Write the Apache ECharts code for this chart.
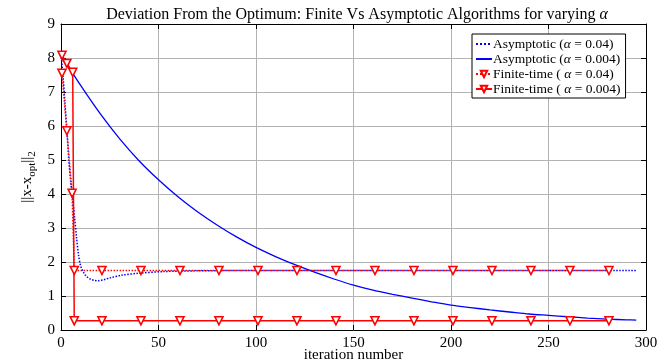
<!DOCTYPE html>
<html>
<head>
<meta charset="utf-8">
<title>Deviation From the Optimum</title>
<script src="https://cdn.jsdelivr.net/npm/echarts@6/dist/echarts.min.js"></script>
<style>
  html, body { margin: 0; padding: 0; background: #fff; }
  #main { width: 658px; height: 364px; }
</style>
</head>
<body>
<div id="main"></div>
<script>
// legend names
var seriesNames = ['Asymptotic (a=0.04)', 'Asymptotic (a=0.004)', 'Finite-time (a=0.04)', 'Finite-time (a=0.004)'];
var legendText = [
    'Asymptotic ({i|α} = 0.04)',
    'Asymptotic ({i|α} = 0.004)',
    'Finite-time ( {i|α} = 0.04)',
    'Finite-time ( {i|α} = 0.004)'
];

// asymptotic, alpha = 0.04 (dotted blue)
var asymFastX = [0, 1, 2, 3, 4, 5, 6, 7, 8, 9, 10, 11.5, 13, 15, 17, 19, 22, 25, 31, 40, 53, 70, 100, 150, 200, 250, 295];
var asymFastY = [8.1, 7.5, 6.7, 5.9, 5.0, 4.35, 3.85, 3.3, 2.7, 2.2, 1.9, 1.7, 1.58, 1.5, 1.46, 1.45, 1.48, 1.53, 1.61, 1.67, 1.72, 1.74, 1.75, 1.75, 1.75, 1.75, 1.75];

// asymptotic, alpha = 0.004 (solid blue)
var asymSlowX = [0, 10, 20, 30, 40, 50, 60, 70, 80, 90, 100, 110, 120, 130, 140, 150, 160, 170, 180, 190, 200, 210, 220, 230, 240, 250, 260, 270, 280, 290, 295];
var asymSlowY = [8.1, 7.2, 6.37, 5.63, 4.98, 4.42, 3.92, 3.48, 3.09, 2.74, 2.43, 2.16, 1.92, 1.7, 1.5, 1.32, 1.17, 1.05, 0.94, 0.83, 0.73, 0.66, 0.59, 0.53, 0.47, 0.43, 0.39, 0.35, 0.32, 0.3, 0.29];

// finite-time, alpha = 0.04 (dotted red, markers)
var finFastX = [0.5, 3, 5.7, 6.8, 21, 41, 61, 81, 101, 121, 141, 161, 181, 201, 221, 241, 261, 281];
var finFastY = [7.55, 5.86, 4.02, 1.75, 1.75, 1.75, 1.75, 1.75, 1.75, 1.75, 1.75, 1.75, 1.75, 1.75, 1.75, 1.75, 1.75, 1.75];

// finite-time, alpha = 0.004 (solid red, markers)
var finSlowX = [0.5, 3, 6, 6.8, 21, 41, 61, 81, 101, 121, 141, 161, 181, 201, 221, 241, 261, 281];
var finSlowY = [8.08, 7.84, 7.58, 0.27, 0.27, 0.27, 0.27, 0.27, 0.27, 0.27, 0.27, 0.27, 0.27, 0.27, 0.27, 0.27, 0.27, 0.27];

function pairs(xs, ys) {
    var out = [];
    for (var i = 0; i < xs.length; i++) {
        out.push([xs[i], ys[i]]);
    }
    return out;
}

var serif = 'Liberation Serif';
var blue = '#0000ff';
var red = '#ff0000';
var gridGray = '#b3b3b3';

var chart = echarts.init(document.getElementById('main'));

// triangle marker style (pointing down)
var triMarker = {
    symbol: 'triangle',
    symbolRotate: 180,
    symbolSize: 8,
    showAllSymbol: true,
    itemStyle: { color: '#fff', borderColor: red, borderWidth: 1.6 }
};

var option = {
    animation: false,
    backgroundColor: '#fff',
    title: {
        text: 'Deviation From the Optimum: Finite Vs Asymptotic Algorithms for varying {i|α}',
        left: 352,
        top: 2,
        textAlign: 'center',
        textStyle: {
            fontFamily: serif,
            fontWeight: 'normal',
            fontSize: 16,
            color: '#000',
            rich: { i: { fontFamily: serif, fontStyle: 'italic', fontSize: 16, color: '#000' } }
        }
    },
    legend: {
        orient: 'vertical',
        left: 472,
        top: 34,
        padding: [3, 5, 2, 3],
        itemGap: 1,
        itemWidth: 16,
        itemHeight: 8,
        backgroundColor: '#fff',
        borderColor: '#000',
        borderWidth: 1,
        borderRadius: 0,
        data: [
            // blue lines have no markers: hide the default legend dot
            { name: seriesNames[0], itemStyle: { opacity: 0 } },
            { name: seriesNames[1], itemStyle: { opacity: 0 } },
            { name: seriesNames[2] },
            { name: seriesNames[3] }
        ],
        formatter: function (name) {
            return legendText[seriesNames.indexOf(name)];
        },
        textStyle: {
            fontFamily: serif,
            fontSize: 13.5,
            lineHeight: 12,
            color: '#000',
            padding: [0, 0, 0, -4],
            rich: { i: { fontFamily: serif, fontStyle: 'italic', fontSize: 13.5, lineHeight: 12, color: '#000' } }
        }
    },
    grid: {
        left: 61,
        right: 12,
        top: 24,
        bottom: 34,
        outerBoundsMode: 'none'
    },
    xAxis: [{
        type: 'value',
        min: 0,
        max: 300,
        interval: 50,
        name: 'iteration number',
        nameLocation: 'middle',
        nameGap: 18,
        nameMoveOverlap: false,
        nameTextStyle: { fontFamily: serif, fontSize: 15, color: '#000' },
        axisLine: { show: true, onZero: false, lineStyle: { color: '#000', width: 1 } },
        axisTick: { show: true, inside: true, length: 5, lineStyle: { color: '#000' } },
        axisLabel: { fontFamily: serif, fontSize: 15, color: '#000', margin: 6 },
        splitLine: { show: true, lineStyle: { color: gridGray, width: 1 } }
    }, {
        // top border with ticks
        type: 'value',
        position: 'top',
        min: 0,
        max: 300,
        interval: 50,
        axisLine: { show: true, onZero: false, lineStyle: { color: '#000', width: 1 } },
        axisTick: { show: true, inside: true, length: 5, lineStyle: { color: '#000' } },
        axisLabel: { show: false },
        splitLine: { show: false }
    }],
    yAxis: [{
        type: 'value',
        min: 0,
        max: 9,
        interval: 1,
        name: '||x-x{sub|opt}||{sub|2}',
        nameLocation: 'middle',
        nameRotate: 90,
        nameGap: 23,
        nameMoveOverlap: false,
        nameTextStyle: {
            fontFamily: serif,
            fontSize: 15,
            color: '#000',
            lineHeight: 22,
            rich: {
                sub: { fontFamily: serif, fontSize: 11, color: '#000', lineHeight: 10, verticalAlign: 'bottom' }
            }
        },
        axisLine: { show: true, onZero: false, lineStyle: { color: '#000', width: 1 } },
        axisTick: { show: true, inside: true, length: 5, lineStyle: { color: '#000' } },
        axisLabel: { fontFamily: serif, fontSize: 15, color: '#000', margin: 6 },
        splitLine: { show: true, lineStyle: { color: gridGray, width: 1 } }
    }, {
        // right border with ticks
        type: 'value',
        position: 'right',
        min: 0,
        max: 9,
        interval: 1,
        axisLine: { show: true, onZero: false, lineStyle: { color: '#000', width: 1 } },
        axisTick: { show: true, inside: true, length: 5, lineStyle: { color: '#000' } },
        axisLabel: { show: false },
        splitLine: { show: false }
    }],
    series: [{
        name: seriesNames[0],
        type: 'line',
        data: pairs(asymFastX, asymFastY),
        showSymbol: false,
        symbol: 'none',
        smooth: 0.3,
        itemStyle: { color: blue },
        lineStyle: { color: blue, width: 1.5, type: 'dotted' },
        z: 2
    }, {
        name: seriesNames[1],
        type: 'line',
        data: pairs(asymSlowX, asymSlowY),
        showSymbol: false,
        symbol: 'none',
        smooth: 0.3,
        itemStyle: { color: blue },
        lineStyle: { color: blue, width: 1.3, type: 'solid' },
        z: 2
    }, echarts.util.extend({
        name: seriesNames[2],
        type: 'line',
        data: pairs(finFastX, finFastY),
        lineStyle: { color: red, width: 1.5, type: 'dotted' },
        z: 3
    }, triMarker), echarts.util.extend({
        name: seriesNames[3],
        type: 'line',
        data: pairs(finSlowX, finSlowY),
        lineStyle: { color: red, width: 1.5, type: 'solid' },
        z: 3
    }, triMarker)]
};

chart.setOption(option);

window.onresize = function () {
    chart.resize();
};
</script>
</body>
</html>
